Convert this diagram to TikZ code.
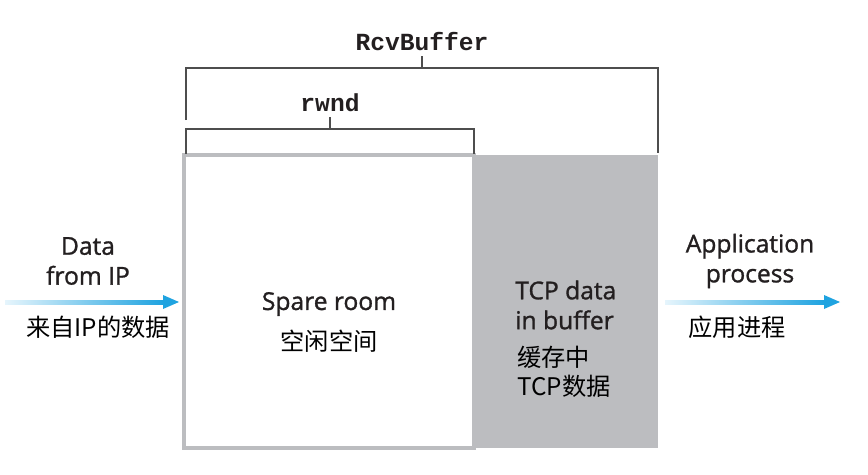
\documentclass[tikz,border=0pt]{standalone}
\usepackage{fontspec}
\setmainfont{Open Sans}
\setmonofont{Liberation Mono}
\newfontfamily\engfont{Open Sans}[UprightFeatures={FakeBold=1.2}]
\newfontfamily\cjk{Noto Sans CJK SC}
\usetikzlibrary{positioning,calc}
\definecolor{boxgray}{HTML}{BCBDC0}
\definecolor{flowblue}{HTML}{1FA3E0}
\definecolor{flowlight}{HTML}{E6F5FC}
\definecolor{inkdark}{HTML}{231F20}
\definecolor{bracketgray}{HTML}{4D4D4D}
\tikzset{
  engtext/.style={font=\engfont\fontsize{14}{17}\selectfont, text=inkdark, align=center, inner sep=0pt},
  cjktext/.style={font=\cjk\fontsize{13.8}{16.5}\selectfont, text=black, inner sep=0pt},
  monotext/.style={font=\ttfamily\bfseries\fontsize{14}{16}\selectfont, text=inkdark, inner sep=0pt},
  bracket/.style={draw=bracketgray, line width=0.7pt},
  bufpart/.style={minimum height=5.86cm, inner sep=0pt},
}

\begin{document}
\begin{tikzpicture}[x=0.02cm, y=-0.02cm]
\useasboundingbox (0,0) rectangle (868,474);
% buffer
\node (data) [bufpart, fill=boxgray, minimum width=3.68cm] at (566,301.5) {};
\node (spare) [bufpart, fill=white, draw=boxgray, line width=2pt, minimum width=5.8cm] at (329,301.5) {};
\node (spareEn) [engtext] at (329,304) {Spare room};
\node (spareCn) [cjktext] at (329,341) {空闲空间};
\node (dataEn) [engtext, align=left, anchor=west] at (515,305) {TCP data\\in buffer};
\node (dataCn) [cjktext, align=left, anchor=west] at (517,372) {缓存中\\TCP数据};
% brackets
\node (rcv) [monotext] at (422,42) {RcvBuffer};
\node (rwnd) [monotext] at (330,103) {rwnd};
\draw[bracket] (186,120) -- (186,68) -- (658,68) -- (658,153);
\draw[bracket] (422,68) -- (422,56);
\draw[bracket] (186,154) -- (186,129) -- (474,129) -- (474,154);
\draw[bracket] (330,129) -- (330,117);
% incoming flow
\coordinate (inL) at (5,302);
\coordinate (inR) at (163,302);
\coordinate (inTip) at (179,302);
\shade[left color=flowlight, right color=flowblue] ($(inL)+(0,-2)$) rectangle ($(inR)+(0,2)$);
\fill[flowblue] ($(inR)+(0,-7)$) -- (inTip) -- ($(inR)+(0,7)$) -- cycle;
\node (inEn) [engtext] at (88,261) {Data\\from IP};
\node (inCn) [cjktext] at (98,327) {来自IP的数据};
% outgoing flow
\coordinate (outL) at (665,302);
\coordinate (outR) at (824,302);
\coordinate (outTip) at (840,302);
\shade[left color=flowlight, right color=flowblue] ($(outL)+(0,-2)$) rectangle ($(outR)+(0,2)$);
\fill[flowblue] ($(outR)+(0,-7)$) -- (outTip) -- ($(outR)+(0,7)$) -- cycle;
\node (outEn) [engtext] at (750,261) {Application\\process};
\node (outCn) [cjktext] at (737,327) {应用进程};
\end{tikzpicture}
\end{document}
